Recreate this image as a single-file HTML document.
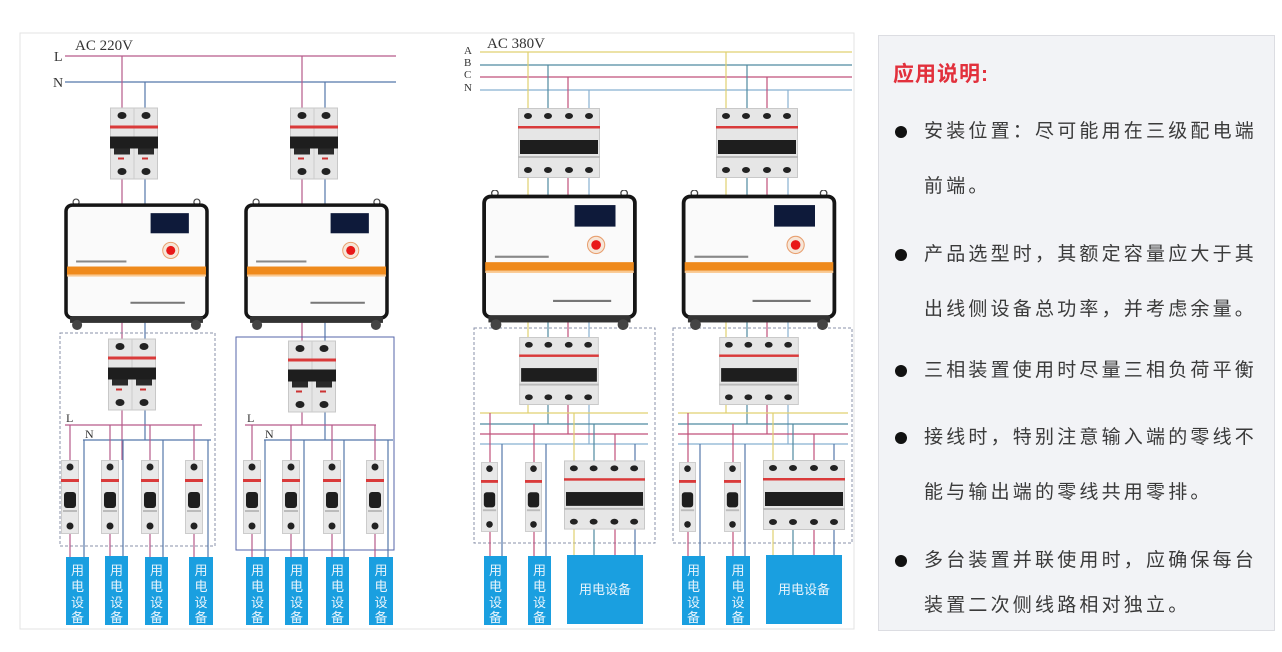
<!DOCTYPE html>
<html><head><meta charset="utf-8">
<style>
html,body{margin:0;padding:0;background:#fff;}
body{width:1282px;height:652px;overflow:hidden;position:relative;font-family:"Liberation Sans","Noto Sans CJK SC",sans-serif;}
svg{position:absolute;left:0;top:0;}
.panel{position:absolute;left:878px;top:35px;width:395px;height:594px;background:#f2f3f6;border:1px solid #dcdde2;}
.t{position:absolute;left:14px;top:22px;color:#e2303c;font-weight:bold;font-size:21px;letter-spacing:1px;}
.l{position:absolute;left:45px;font-size:19px;color:#3a3a3a;letter-spacing:3.2px;white-space:nowrap;line-height:24px;}
.b{position:absolute;left:16px;width:12px;height:12px;border-radius:50%;background:#111;}
</style></head><body>
<svg width="1282" height="652" viewBox="0 0 1282 652">
<defs>
<symbol id="b2" viewBox="0 0 48 72">
<rect x="0.5" y="0.5" width="47" height="71" fill="#e6e6e6" stroke="#c8c8c8"/>
<line x1="24" y1="0" x2="24" y2="72" stroke="#ccc"/>
<ellipse cx="12" cy="8" rx="4.5" ry="3.5" fill="#222"/><ellipse cx="36" cy="8" rx="4.5" ry="3.5" fill="#222"/>
<rect x="0" y="18" width="48" height="3" fill="#d93a3a"/>
<rect x="0" y="29" width="48" height="12" fill="#1e1e1e"/>
<rect x="4" y="41" width="16" height="6" fill="#2a2a2a"/><rect x="28" y="41" width="16" height="6" fill="#2a2a2a"/>
<rect x="8" y="50" width="6" height="2" fill="#c33"/><rect x="32" y="50" width="6" height="2" fill="#c33"/>
<ellipse cx="12" cy="64" rx="4.5" ry="3.5" fill="#222"/><ellipse cx="36" cy="64" rx="4.5" ry="3.5" fill="#222"/>
</symbol>
<symbol id="b4" viewBox="0 0 82 70">
<rect x="0.5" y="0.5" width="81" height="69" fill="#e6e6e6" stroke="#c8c8c8"/>
<g fill="#222"><ellipse cx="10" cy="8" rx="4" ry="3"/><ellipse cx="30" cy="8" rx="4" ry="3"/><ellipse cx="51" cy="8" rx="4" ry="3"/><ellipse cx="71" cy="8" rx="4" ry="3"/>
<ellipse cx="10" cy="62" rx="4" ry="3"/><ellipse cx="30" cy="62" rx="4" ry="3"/><ellipse cx="51" cy="62" rx="4" ry="3"/><ellipse cx="71" cy="62" rx="4" ry="3"/></g>
<rect x="0" y="18" width="82" height="2.5" fill="#d93a3a"/>
<rect x="2" y="32" width="78" height="14" fill="#1e1e1e"/>
<rect x="0" y="48" width="82" height="2" fill="#bbb"/>
</symbol>
<symbol id="b1" viewBox="0 0 18 74">
<rect x="0.5" y="0.5" width="17" height="73" fill="#e8e8e8" stroke="#ccc"/>
<ellipse cx="9" cy="7" rx="3.5" ry="3.5" fill="#222"/>
<rect x="0" y="19" width="18" height="3" fill="#d93a3a"/>
<rect x="3" y="32" width="12" height="16" rx="3" fill="#1e1e1e"/>
<rect x="2" y="50" width="14" height="2" fill="#bbb"/>
<ellipse cx="9" cy="66" rx="3.5" ry="3.5" fill="#222"/>
</symbol>
<symbol id="dev" viewBox="0 0 144 130">
<circle cx="12" cy="3" r="3" fill="none" stroke="#444" stroke-width="1.2"/><circle cx="132" cy="3" r="3" fill="none" stroke="#444" stroke-width="1.2"/>
<rect x="2" y="6" width="140" height="112" rx="6" fill="#fafafa" stroke="#151515" stroke-width="3.5"/>
<rect x="86" y="14" width="38" height="20" fill="#0e1a3a"/>
<circle cx="106" cy="51" r="8" fill="#f6e6d8" stroke="#e8a070"/><circle cx="106" cy="51" r="4.5" fill="#e81818"/>
<rect x="12" y="61" width="50" height="2" fill="#888"/>
<rect x="3" y="67" width="138" height="8" fill="#ef8a1c"/>
<rect x="3" y="75" width="138" height="2" fill="#f9c890"/>
<rect x="66" y="102" width="54" height="2" fill="#777"/>
<rect x="6" y="117" width="132" height="6" fill="#333"/>
<circle cx="13" cy="125" r="5" fill="#444"/><circle cx="131" cy="125" r="5" fill="#444"/>
</symbol>
</defs>
<rect x="20" y="33" width="834" height="596" fill="#fff" stroke="#e3e3e3"/>
<!-- 220V -->
<g font-family="Liberation Serif,serif" fill="#333">
<text x="75" y="50" font-size="15">AC 220V</text>
<text x="54" y="61" font-size="14">L</text><text x="53" y="87" font-size="14">N</text>
<text x="487" y="48" font-size="15">AC 380V</text>
<text x="464" y="54" font-size="11">A</text><text x="464" y="66" font-size="11">B</text><text x="464" y="78" font-size="11">C</text><text x="464" y="91" font-size="11">N</text>
<text x="66" y="422" font-size="12">L</text><text x="85" y="438" font-size="12">N</text>
<text x="247" y="422" font-size="12">L</text><text x="265" y="438" font-size="12">N</text>
</g>
<g stroke-width="1.2" fill="none">
<line x1="65" y1="56" x2="396" y2="56" stroke="#b65a8a"/>
<line x1="65" y1="82" x2="396" y2="82" stroke="#5577aa"/>
<line x1="122" y1="56" x2="122" y2="460" stroke="#b65a8a"/><line x1="145" y1="82" x2="145" y2="440" stroke="#5577aa"/>
<line x1="302" y1="56" x2="302" y2="425" stroke="#b65a8a"/><line x1="325" y1="82" x2="325" y2="440" stroke="#5577aa"/>
<!-- 380 lines -->
<line x1="480" y1="52" x2="852" y2="52" stroke="#e0d070"/>
<line x1="480" y1="65" x2="852" y2="65" stroke="#4f8aa0"/>
<line x1="480" y1="77" x2="852" y2="77" stroke="#c0507a"/>
<line x1="480" y1="90" x2="852" y2="90" stroke="#88b0d0"/>
</g>
<!-- dashed boxes -->
<g fill="none" stroke="#8890a8" stroke-dasharray="3,2">
<rect x="60" y="333" width="155" height="213"/>
<rect x="236" y="337" width="158" height="213" stroke="#5566aa" stroke-dasharray="none"/>
<rect x="474" y="328" width="181" height="215"/>
<rect x="673" y="328" width="179" height="215"/>
</g>
<!-- 220 buses -->
<g stroke-width="1.2">
<line x1="65" y1="425" x2="202" y2="425" stroke="#b65a8a"/><line x1="83" y1="440" x2="211" y2="440" stroke="#5577aa"/>
<line x1="245" y1="425" x2="376" y2="425" stroke="#b65a8a"/><line x1="264" y1="440" x2="393" y2="440" stroke="#5577aa"/>
<g stroke="#b65a8a"><line x1="70" y1="425" x2="70" y2="557"/><line x1="110" y1="425" x2="110" y2="557"/><line x1="150" y1="425" x2="150" y2="557"/><line x1="194" y1="425" x2="194" y2="557"/>
<line x1="252" y1="425" x2="252" y2="557"/><line x1="291" y1="425" x2="291" y2="557"/><line x1="332" y1="425" x2="332" y2="557"/><line x1="375" y1="425" x2="375" y2="557"/></g>
<g stroke="#5577aa"><line x1="84" y1="440" x2="84" y2="557"/><line x1="123" y1="440" x2="123" y2="557"/><line x1="163" y1="440" x2="163" y2="557"/><line x1="208" y1="440" x2="208" y2="557"/>
<line x1="265" y1="440" x2="265" y2="557"/><line x1="304" y1="440" x2="304" y2="557"/><line x1="344" y1="440" x2="344" y2="557"/><line x1="388" y1="440" x2="388" y2="557"/></g>
</g>
<!-- 380 drops -->
<g stroke-width="1.2">
<line x1="528" y1="52" x2="528" y2="413" stroke="#e0d070"/><line x1="548" y1="65" x2="548" y2="424" stroke="#4f8aa0"/><line x1="568" y1="77" x2="568" y2="434" stroke="#c0507a"/><line x1="589" y1="90" x2="589" y2="444" stroke="#88b0d0"/>
<line x1="726" y1="52" x2="726" y2="413" stroke="#e0d070"/><line x1="747" y1="65" x2="747" y2="424" stroke="#4f8aa0"/><line x1="767" y1="77" x2="767" y2="434" stroke="#c0507a"/><line x1="788" y1="90" x2="788" y2="444" stroke="#88b0d0"/>
<line x1="480" y1="413" x2="648" y2="413" stroke="#e0d070"/><line x1="480" y1="424" x2="648" y2="424" stroke="#4f8aa0"/><line x1="480" y1="434" x2="648" y2="434" stroke="#c0507a"/><line x1="480" y1="444" x2="648" y2="444" stroke="#88b0d0"/>
<line x1="678" y1="413" x2="848" y2="413" stroke="#e0d070"/><line x1="678" y1="424" x2="848" y2="424" stroke="#4f8aa0"/><line x1="678" y1="434" x2="848" y2="434" stroke="#c0507a"/><line x1="678" y1="444" x2="848" y2="444" stroke="#88b0d0"/>
<line x1="490" y1="413" x2="490" y2="557" stroke="#c0507a"/><line x1="502" y1="444" x2="502" y2="557" stroke="#5577aa"/>
<line x1="534" y1="424" x2="534" y2="557" stroke="#c0507a"/><line x1="546" y1="444" x2="546" y2="557" stroke="#5577aa"/>
<line x1="574" y1="413" x2="574" y2="555" stroke="#e0d070"/><line x1="594" y1="424" x2="594" y2="555" stroke="#4f8aa0"/><line x1="615" y1="434" x2="615" y2="555" stroke="#c0507a"/><line x1="635" y1="444" x2="635" y2="555" stroke="#5577aa"/>
<line x1="688" y1="413" x2="688" y2="557" stroke="#c0507a"/><line x1="700" y1="444" x2="700" y2="557" stroke="#5577aa"/>
<line x1="733" y1="424" x2="733" y2="557" stroke="#c0507a"/><line x1="745" y1="444" x2="745" y2="557" stroke="#5577aa"/>
<line x1="773" y1="413" x2="773" y2="555" stroke="#e0d070"/><line x1="793" y1="424" x2="793" y2="555" stroke="#4f8aa0"/><line x1="814" y1="434" x2="814" y2="555" stroke="#c0507a"/><line x1="834" y1="444" x2="834" y2="555" stroke="#5577aa"/>
</g>
<!-- breakers -->
<use href="#b2" x="110" y="107" width="48" height="73"/>
<use href="#b2" x="290" y="107" width="48" height="73"/>
<use href="#b2" x="108" y="338" width="48" height="73"/>
<use href="#b2" x="288" y="340" width="48" height="73"/>
<use href="#b4" x="518" y="108" width="82" height="70"/>
<use href="#b4" x="716" y="108" width="82" height="70"/>
<use href="#b4" x="518" y="337" width="82" height="68"/>
<use href="#b4" x="718" y="337" width="82" height="68"/>
<use href="#b4" x="564" y="460" width="81" height="70"/>
<use href="#b4" x="763" y="460" width="82" height="70"/>
<g>
<use href="#b1" x="61" y="460" width="18" height="74"/><use href="#b1" x="101" y="460" width="18" height="74"/><use href="#b1" x="141" y="460" width="18" height="74"/><use href="#b1" x="185" y="460" width="18" height="74"/>
<use href="#b1" x="243" y="460" width="18" height="74"/><use href="#b1" x="282" y="460" width="18" height="74"/><use href="#b1" x="323" y="460" width="18" height="74"/><use href="#b1" x="366" y="460" width="18" height="74"/>
<use href="#b1" x="481" y="460" width="17" height="74"/><use href="#b1" x="525" y="460" width="17" height="74"/>
<use href="#b1" x="679" y="460" width="17" height="74"/><use href="#b1" x="724" y="460" width="17" height="74"/>
</g>
<!-- devices -->
<use href="#dev" x="64" y="198" width="145" height="133"/>
<use href="#dev" x="244" y="198" width="145" height="133"/>
<use href="#dev" x="481" y="190" width="157" height="140"/>
<use href="#dev" x="679" y="190" width="160" height="140"/>
<!-- loads -->
<g fill="#1a9fe0">
<rect x="66" y="557" width="23" height="68"/><rect x="105" y="556" width="23" height="69"/><rect x="145" y="557" width="23" height="68"/><rect x="189" y="557" width="24" height="68"/>
<rect x="246" y="557" width="23" height="68"/><rect x="285" y="557" width="23" height="68"/><rect x="326" y="557" width="23" height="68"/><rect x="369" y="557" width="24" height="68"/>
<rect x="484" y="556" width="23" height="69"/><rect x="528" y="556" width="23" height="69"/><rect x="567" y="555" width="76" height="69"/>
<rect x="682" y="556" width="23" height="69"/><rect x="726" y="556" width="24" height="69"/><rect x="766" y="555" width="76" height="69"/>
</g>
<g fill="#e8f4fc" font-family="Liberation Sans,Noto Sans CJK SC,sans-serif" font-size="13" text-anchor="middle">
<g id="vt">
</g>
<text x="77.5" y="575">用</text><text x="77.5" y="591">电</text><text x="77.5" y="607">设</text><text x="77.5" y="622">备</text>
<text x="116.5" y="575">用</text><text x="116.5" y="591">电</text><text x="116.5" y="607">设</text><text x="116.5" y="622">备</text>
<text x="156.5" y="575">用</text><text x="156.5" y="591">电</text><text x="156.5" y="607">设</text><text x="156.5" y="622">备</text>
<text x="201" y="575">用</text><text x="201" y="591">电</text><text x="201" y="607">设</text><text x="201" y="622">备</text>
<text x="257.5" y="575">用</text><text x="257.5" y="591">电</text><text x="257.5" y="607">设</text><text x="257.5" y="622">备</text>
<text x="296.5" y="575">用</text><text x="296.5" y="591">电</text><text x="296.5" y="607">设</text><text x="296.5" y="622">备</text>
<text x="337.5" y="575">用</text><text x="337.5" y="591">电</text><text x="337.5" y="607">设</text><text x="337.5" y="622">备</text>
<text x="381" y="575">用</text><text x="381" y="591">电</text><text x="381" y="607">设</text><text x="381" y="622">备</text>
<text x="495.5" y="575">用</text><text x="495.5" y="591">电</text><text x="495.5" y="607">设</text><text x="495.5" y="622">备</text>
<text x="539.5" y="575">用</text><text x="539.5" y="591">电</text><text x="539.5" y="607">设</text><text x="539.5" y="622">备</text>
<text x="693.5" y="575">用</text><text x="693.5" y="591">电</text><text x="693.5" y="607">设</text><text x="693.5" y="622">备</text>
<text x="738" y="575">用</text><text x="738" y="591">电</text><text x="738" y="607">设</text><text x="738" y="622">备</text>
<text x="605" y="594">用电设备</text><text x="804" y="594">用电设备</text>
</g>
</svg>
<div class="panel">
<div class="t">应用说明:</div>
<div class="b" style="top:90px"></div><div class="l" style="top:84px">安装位置：尽可能用在三级配电端</div>
<div class="l" style="top:139px">前端。</div>
<div class="b" style="top:213px"></div><div class="l" style="top:207px">产品选型时，其额定容量应大于其</div>
<div class="l" style="top:262px">出线侧设备总功率，并考虑余量。</div>
<div class="b" style="top:329px"></div><div class="l" style="top:323px">三相装置使用时尽量三相负荷平衡</div>
<div class="b" style="top:396px"></div><div class="l" style="top:390px">接线时，特别注意输入端的零线不</div>
<div class="l" style="top:445px">能与输出端的零线共用零排。</div>
<div class="b" style="top:519px"></div><div class="l" style="top:513px">多台装置并联使用时，应确保每台</div>
<div class="l" style="top:558px">装置二次侧线路相对独立。</div>
</div>
</body></html>
